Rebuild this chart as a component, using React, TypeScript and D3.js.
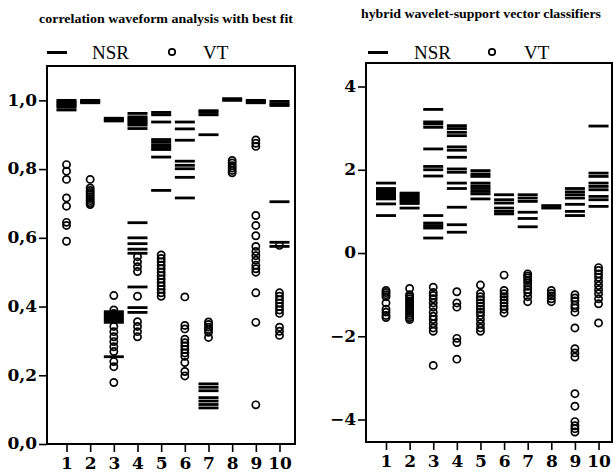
import React, {useRef, useEffect} from 'react'
import * as d3 from 'd3'

const categories = [1, 2, 3, 4, 5, 6, 7, 8, 9, 10]

// correlation waveform analysis with best fit
const cwaNsr = [
  [1.0, 0.995, 0.99, 0.985, 0.98, 0.972],
  [1.0, 0.997, 0.993],
  [0.948, 0.944, 0.94, 0.385, 0.378, 0.372, 0.366, 0.36, 0.354, 0.254],
  [0.962, 0.952, 0.946, 0.94, 0.934, 0.928, 0.918, 0.644, 0.6, 0.583, 0.567, 0.555, 0.457, 0.397, 0.383],
  [0.965, 0.958, 0.937, 0.886, 0.878, 0.87, 0.863, 0.857, 0.835, 0.738],
  [0.937, 0.917, 0.884, 0.823, 0.811, 0.801, 0.776, 0.716],
  [0.97, 0.965, 0.958, 0.9, 0.175, 0.165, 0.155, 0.135, 0.125, 0.115, 0.105],
  [1.005, 1.0],
  [1.0, 0.997, 0.993],
  [0.997, 0.99, 0.985, 0.705, 0.587, 0.575]
]
const cwaVt = [
  [0.813, 0.794, 0.77, 0.716, 0.692, 0.645, 0.636, 0.59],
  [0.77, 0.745, 0.738, 0.732, 0.726, 0.72, 0.714, 0.708, 0.702, 0.697],
  [0.432, 0.39, 0.38, 0.37, 0.342, 0.327, 0.312, 0.298, 0.283, 0.269, 0.24, 0.225, 0.179],
  [0.545, 0.53, 0.516, 0.502, 0.43, 0.356, 0.342, 0.327, 0.312],
  [0.55, 0.54, 0.53, 0.52, 0.51, 0.5, 0.49, 0.48, 0.47, 0.46, 0.45, 0.44, 0.43],
  [0.428, 0.345, 0.335, 0.305, 0.295, 0.285, 0.275, 0.265, 0.255, 0.237, 0.211, 0.198],
  [0.355, 0.348, 0.34, 0.333, 0.325, 0.31],
  [0.825, 0.818, 0.81, 0.803, 0.796, 0.789],
  [0.885, 0.875, 0.866, 0.665, 0.636, 0.606, 0.575, 0.56, 0.548, 0.535, 0.52, 0.51, 0.5, 0.44, 0.354, 0.114],
  [0.578, 0.44, 0.43, 0.42, 0.41, 0.4, 0.39, 0.38, 0.34, 0.328, 0.316]
]

// hybrid wavelet-support vector classifiers
const hwsNsr = [
  [1.68, 1.55, 1.5, 1.45, 1.4, 1.35, 1.3, 1.18, 0.9],
  [1.44, 1.39, 1.34, 1.29, 1.24, 1.19, 1.08],
  [3.45, 3.15, 3.1, 3.02, 2.5, 2.08, 2.0, 1.85, 0.9, 0.72, 0.66, 0.6, 0.36],
  [3.06, 2.99, 2.9, 2.82, 2.55, 2.47, 2.3, 2.02, 1.94, 1.68, 1.55, 1.1, 0.68, 0.5],
  [1.98, 1.9, 1.84, 1.68, 1.61, 1.55, 1.48, 1.42, 1.3],
  [1.4, 1.28, 1.2, 1.08, 1.0, 0.94],
  [1.4, 1.32, 1.24, 0.98, 0.83, 0.63],
  [1.14, 1.08],
  [1.55, 1.47, 1.4, 1.32, 1.17, 1.0, 0.9],
  [3.05, 1.92, 1.84, 1.68, 1.6, 1.52, 1.36, 1.28, 1.12]
]
const hwsVt = [
  [-0.9, -0.95, -1.0, -1.05, -1.2, -1.35, -1.42, -1.5, -1.55],
  [-0.85, -1.0, -1.05, -1.1, -1.15, -1.2, -1.25, -1.3, -1.35, -1.4, -1.45, -1.5, -1.55, -1.6],
  [-0.82, -0.95, -1.02, -1.1, -1.2, -1.3, -1.42, -1.52, -1.6, -1.7, -1.8, -1.88, -2.7],
  [-0.93, -1.2, -1.3, -2.05, -2.15, -2.55],
  [-0.77, -0.97, -1.05, -1.12, -1.2, -1.28, -1.35, -1.42, -1.5, -1.6, -1.7, -1.8, -1.88],
  [-0.53, -0.9, -0.98, -1.05, -1.12, -1.2, -1.28, -1.35, -1.44],
  [-0.5, -0.55, -0.6, -0.66, -0.72, -0.8, -0.88, -0.95, -1.05, -1.17],
  [-0.9, -0.97, -1.03, -1.1, -1.17],
  [-1.0, -1.08, -1.15, -1.25, -1.32, -1.42, -1.8, -2.3, -2.4, -2.5, -3.38, -3.68, -4.05, -4.15, -4.22, -4.3],
  [-0.35, -0.42, -0.5, -0.58, -0.68, -0.78, -0.88, -0.98, -1.1, -1.22, -1.68]
]

const cwaTicks = [0, 0.2, 0.4, 0.6, 0.8, 1.0]
const hwsTicks = [-4, -2, 0, 2, 4]
const legendLabels = ['NSR', 'VT']

const tickFont = 'DejaVu Serif'
const textFont = 'Liberation Serif'

function App() {
  const svgRef = useRef(null)

  useEffect(() => {
    const svg = d3.select(svgRef.current)
    svg.selectAll('*').remove()

    drawPanel(svg, {
      title: 'correlation waveform analysis with best fit',
      titleX: 39, titleY: 23, titleLen: 254,
      left: 47, right: 295, top: 66, bottom: 444,
      xDomain: [0.176, 10.655],
      yDomain: [0, 1.1],
      yTicks: cwaTicks,
      yFormat: d => d3.format('.1f')(d).replace('.', ','),
      nsr: cwaNsr,
      vt: cwaVt,
      legendX: [47, 92, 172, 203]
    })

    drawPanel(svg, {
      title: 'hybrid wavelet-support vector classifiers',
      titleX: 361, titleY: 18, titleLen: 240,
      left: 366, right: 612, top: 63, bottom: 442,
      xDomain: [0.153, 10.57],
      yDomain: [-4.54, 4.565],
      yTicks: hwsTicks,
      yFormat: d => d3.format('d')(d),
      nsr: hwsNsr,
      vt: hwsVt,
      legendX: [368, 414, 492, 524]
    })
  }, [])

  function drawPanel(svg, p) {
    const x = d3.scaleLinear().domain(p.xDomain).range([p.left, p.right])
    const y = d3.scaleLinear().domain(p.yDomain).range([p.bottom, p.top])
    const g = svg.append('g')

    g.append('text')
      .attr('x', p.titleX)
      .attr('y', p.titleY)
      .attr('textLength', p.titleLen)
      .attr('lengthAdjust', 'spacingAndGlyphs')
      .style('font-family', textFont)
      .style('font-weight', 'bold')
      .style('font-size', '12.5px')
      .text(p.title)

    // legend
    const lg = g.append('g')
    lg.append('line')
      .attr('x1', p.legendX[0]).attr('x2', p.legendX[0] + 20)
      .attr('y1', 52.5).attr('y2', 52.5)
      .attr('stroke', '#000').attr('stroke-width', 3)
    lg.append('text')
      .attr('x', p.legendX[1]).attr('y', 58.5)
      .style('font-family', textFont).style('font-size', '19px')
      .text(legendLabels[0])
    lg.append('circle')
      .attr('cx', p.legendX[2]).attr('cy', 52)
      .attr('r', 3.2)
      .attr('fill', 'none').attr('stroke', '#000').attr('stroke-width', 1.7)
    lg.append('text')
      .attr('x', p.legendX[3]).attr('y', 58.5)
      .style('font-family', textFont).style('font-size', '19px')
      .text(legendLabels[1])

    // frame
    g.append('rect')
      .attr('x', p.left).attr('y', p.top)
      .attr('width', p.right - p.left).attr('height', p.bottom - p.top)
      .attr('fill', 'none').attr('stroke', '#000').attr('stroke-width', 2)

    // y axis
    const yAxis = g.append('g')
      .attr('transform', `translate(${p.left},0)`)
      .call(d3.axisLeft(y).tickValues(p.yTicks).tickFormat(p.yFormat).tickSize(8).tickPadding(2))
    yAxis.select('.domain').remove()
    yAxis.selectAll('line').attr('stroke-width', 1.6)
    yAxis.selectAll('text')
      .style('font-family', tickFont).style('font-weight', 'bold').style('font-size', '17px')
      .attr('dy', '0.28em')

    // x axis
    const xAxis = g.append('g')
      .attr('transform', `translate(0,${p.bottom})`)
      .call(d3.axisBottom(x).tickValues(categories).tickFormat(d3.format('d')).tickSize(8).tickPadding(5))
    xAxis.select('.domain').remove()
    xAxis.selectAll('line').attr('stroke-width', 1.6)
    xAxis.selectAll('text')
      .style('font-family', tickFont).style('font-weight', 'bold').style('font-size', '17px')

    // NSR dashes
    const nsrPts = []
    p.nsr.forEach((vals, i) => vals.forEach(v => nsrPts.push({c: categories[i], v})))
    g.append('g')
      .selectAll('line')
      .data(nsrPts)
      .enter()
      .append('line')
      .attr('x1', d => x(d.c) - 10)
      .attr('x2', d => x(d.c) + 10)
      .attr('y1', d => y(d.v))
      .attr('y2', d => y(d.v))
      .attr('stroke', '#000')
      .attr('stroke-width', 2.8)

    // VT circles
    const vtPts = []
    p.vt.forEach((vals, i) => vals.forEach(v => vtPts.push({c: categories[i], v})))
    g.append('g')
      .selectAll('circle')
      .data(vtPts)
      .enter()
      .append('circle')
      .attr('cx', d => x(d.c))
      .attr('cy', d => y(d.v))
      .attr('r', 3.6)
      .attr('fill', 'none')
      .attr('stroke', '#000')
      .attr('stroke-width', 1.7)
  }

  return (
    <div style={{position: 'absolute', left: 0, top: 0}}>
      <svg ref={svgRef} width="614" height="474" style={{display: 'block', background: '#fff'}} />
    </div>
  )
}

export default App
